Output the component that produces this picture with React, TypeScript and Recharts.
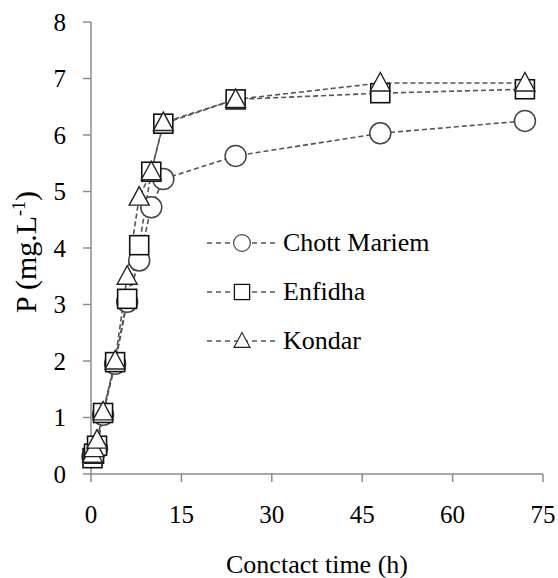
import { LineChart, Line, XAxis, YAxis, Legend } from 'recharts';

// contact time (h)
const times = [0.25, 0.5, 1, 2, 4, 6, 8, 10, 12, 24, 48, 72];
// P (mg/L) per soil
const chottMariem = [0.3, 0.38, 0.45, 1.05, 1.95, 3.05, 3.78, 4.72, 5.22, 5.63, 6.03, 6.25];
const enfidha = [0.28, 0.36, 0.5, 1.08, 1.98, 3.1, 4.05, 5.35, 6.2, 6.63, 6.74, 6.81];
const kondar = [0.35, 0.45, 0.6, 1.1, 2.0, 3.5, 4.9, 5.35, 6.22, 6.63, 6.92, 6.92];
const xTicks = [0, 15, 30, 45, 60, 75];
const yTicks = [0, 1, 2, 3, 4, 5, 6, 7, 8];

const FONT = '"Liberation Serif", "Times New Roman", serif';
const LINE_COLOR = '#555';
const AXIS_COLOR = '#8c8c8c';

const data = times.map((t, i) => ({
  t,
  chott: chottMariem[i],
  enfidha: enfidha[i],
  kondar: kondar[i],
}));

type Shape = 'circle' | 'square' | 'triangle';

function Marker({ cx, cy, shape }: { cx: number; cy: number; shape: Shape }) {
  if (cx == null || cy == null) return null;
  if (shape === 'circle') {
    return <circle cx={cx} cy={cy} r={10.5} fill="#fff" stroke="#444" strokeWidth={1.5} />;
  }
  if (shape === 'square') {
    return <rect x={cx - 9.5} y={cy - 9.5} width={19} height={19} fill="#fff" stroke="#111" strokeWidth={1.6} />;
  }
  return (
    <polygon
      points={`${cx},${cy - 10.5} ${cx - 10},${cy + 8} ${cx + 10},${cy + 8}`}
      fill="#fff"
      stroke="#222"
      strokeWidth={1.4}
    />
  );
}

const series: { key: string; name: string; shape: Shape }[] = [
  { key: 'chott', name: 'Chott Mariem', shape: 'circle' },
  { key: 'enfidha', name: 'Enfidha', shape: 'square' },
  { key: 'kondar', name: 'Kondar', shape: 'triangle' },
];

function LegendBox() {
  return (
    <div style={{ fontFamily: FONT, fontSize: 26, color: '#000' }}>
      {series.map((s) => (
        <div key={s.key} style={{ display: 'flex', alignItems: 'center', height: 49 }}>
          <svg width={74} height={26} style={{ display: 'block' }}>
            <line x1={2} y1={13} x2={72} y2={13} stroke={LINE_COLOR} strokeWidth={1.5} strokeDasharray="5 4" />
            <g transform="translate(37,13) scale(0.8) translate(-37,-13)">
              <Marker cx={37} cy={13} shape={s.shape} />
            </g>
          </svg>
          <span style={{ marginLeft: 4, lineHeight: 1 }}>{s.name}</span>
        </div>
      ))}
    </div>
  );
}

function YTitle(props: any) {
  const { viewBox } = props;
  const cy = viewBox.y + viewBox.height / 2 + 4;
  const x = 36;
  return (
    <text
      x={x}
      y={cy}
      transform={`rotate(-90, ${x}, ${cy})`}
      textAnchor="middle"
      fontFamily={FONT}
      fontSize={30}
      fill="#000"
    >
      P (mg.L
      <tspan fontSize={18} dy={-11}>-1</tspan>
      <tspan dy={11}>)</tspan>
    </text>
  );
}

function XTitle(props: any) {
  const { viewBox } = props;
  return (
    <text
      x={viewBox.x + viewBox.width / 2}
      y={viewBox.y + 99}
      textAnchor="middle"
      fontFamily={FONT}
      fontSize={26}
      fill="#000"
    >
      Conctact time (h)
    </text>
  );
}

export default function App() {
  return (
    <div style={{ position: 'absolute', left: 0, top: 0, background: '#fff' }}>
      <LineChart width={558} height={578} data={data} margin={{ top: 22, right: 15, bottom: 0, left: 0 }}>
        <XAxis
          type="number"
          dataKey="t"
          domain={[0, 75]}
          ticks={xTicks}
          height={104}
          stroke={AXIS_COLOR}
          strokeWidth={1.5}
          tickSize={8}
          tickMargin={23}
          tick={{ fill: '#000', fontFamily: FONT, fontSize: 25 }}
          label={{ content: XTitle }}
        />
        <YAxis
          type="number"
          domain={[0, 8]}
          ticks={yTicks}
          width={91}
          stroke={AXIS_COLOR}
          strokeWidth={1.5}
          tickSize={8}
          tickMargin={17}
          tick={{ fill: '#000', fontFamily: FONT, fontSize: 25 }}
          label={{ content: YTitle }}
        />
        <Legend
          layout="vertical"
          align="center"
          verticalAlign="middle"
          wrapperStyle={{ left: 205, top: 218, width: 280 }}
          content={() => <LegendBox />}
        />
        {series.map((s) => (
          <Line
            key={s.key}
            dataKey={s.key}
            name={s.name}
            stroke={LINE_COLOR}
            strokeWidth={1.6}
            strokeDasharray="5 3"
            isAnimationActive={false}
            dot={(p: any) => <Marker key={`${s.key}-${p.index}`} cx={p.cx} cy={p.cy} shape={s.shape} />}
            activeDot={false}
          />
        ))}
      </LineChart>
    </div>
  );
}
